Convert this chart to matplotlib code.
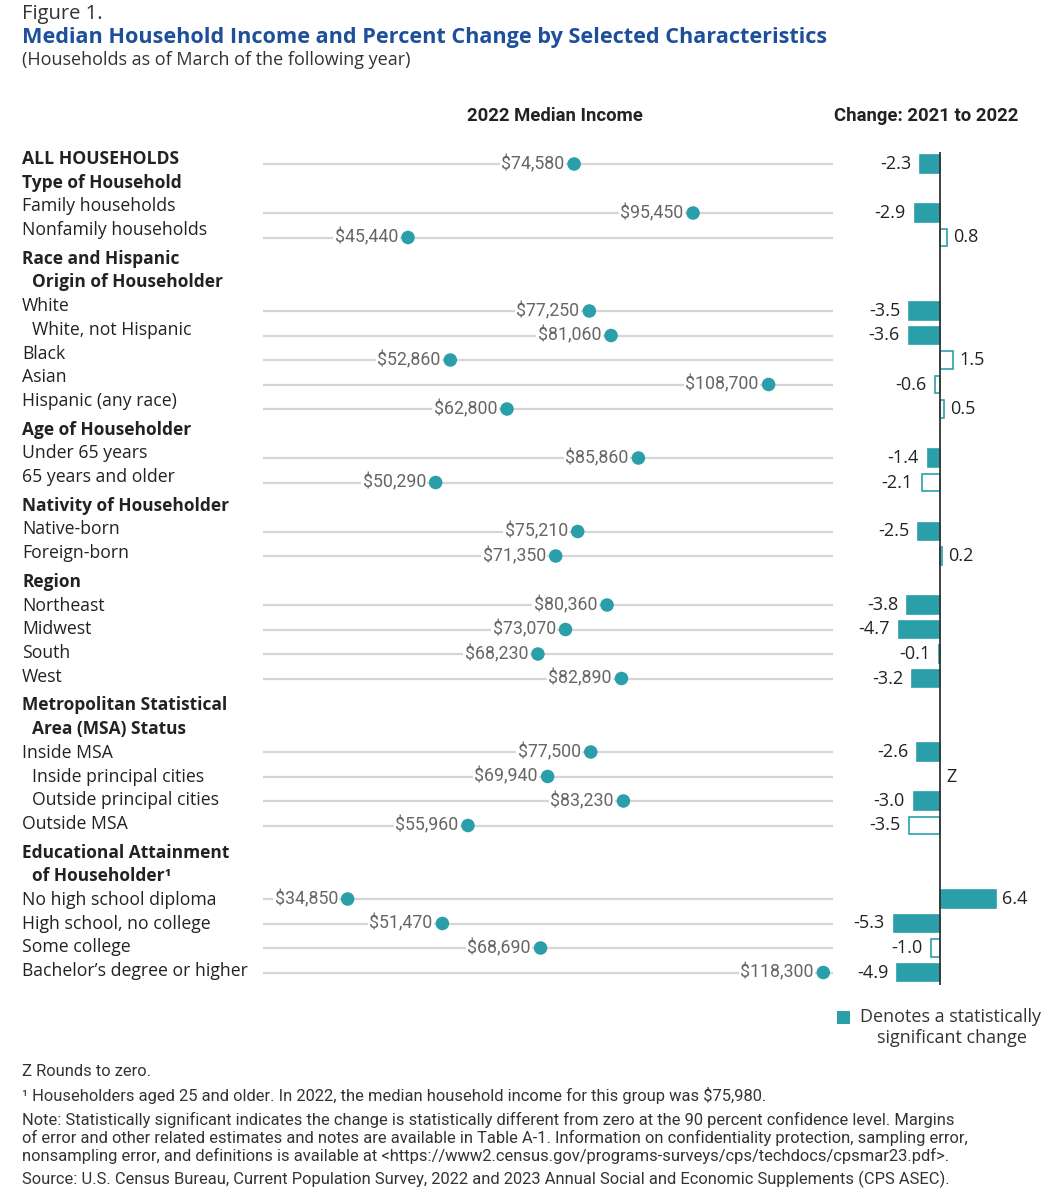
import numpy as np
import matplotlib
matplotlib.use("Agg")
import matplotlib.pyplot as plt
from matplotlib.patches import Rectangle

W, H = 1047, 1200

# groups of rows: header text (may be two lines) and categories under it
group_headers = ["", "Type of Household", "Race and Hispanic\nOrigin of Householder",
                 "Age of Householder", "Nativity of Householder", "Region",
                 "Metropolitan Statistical\nArea (MSA) Status",
                 "Educational Attainment\nof Householder\u00b9"]
group_sizes = [1, 2, 5, 2, 2, 4, 4, 4]

categories = ["ALL HOUSEHOLDS",
              "Family households", "Nonfamily households",
              "White", "White, not Hispanic", "Black", "Asian", "Hispanic (any race)",
              "Under 65 years", "65 years and older",
              "Native-born", "Foreign-born",
              "Northeast", "Midwest", "South", "West",
              "Inside MSA", "Inside principal cities", "Outside principal cities", "Outside MSA",
              "No high school diploma", "High school, no college", "Some college",
              "Bachelor\u2019s degree or higher"]
indented = ["White, not Hispanic", "Inside principal cities", "Outside principal cities"]

income = [74580,
          95450, 45440,
          77250, 81060, 52860, 108700, 62800,
          85860, 50290,
          75210, 71350,
          80360, 73070, 68230, 82890,
          77500, 69940, 83230, 55960,
          34850, 51470, 68690, 118300]

change = [-2.3,
          -2.9, 0.8,
          -3.5, -3.6, 1.5, -0.6, 0.5,
          -1.4, -2.1,
          -2.5, 0.2,
          -3.8, -4.7, -0.1, -3.2,
          -2.6, 0.0, -3.0, -3.5,
          6.4, -5.3, -1.0, -4.9]
change_text = ["-2.3", "-2.9", "0.8", "-3.5", "-3.6", "1.5", "-0.6", "0.5",
               "-1.4", "-2.1", "-2.5", "0.2", "-3.8", "-4.7", "-0.1", "-3.2",
               "-2.6", "Z", "-3.0", "-3.5", "6.4", "-5.3", "-1.0", "-4.9"]
significant = [True, True, False, True, True, False, False, False,
               True, False, True, False, True, True, False, True,
               True, False, True, False, True, True, False, True]

teal = "#2A9FAA"
blue = "#1D4F9B"
dark = "#222222"
main_font = ["Open Sans", "DejaVu Sans"]
num_font = ["Roboto", "DejaVu Sans"]


def fx(x):
    return x / W


def fy(y):
    return 1 - y / H


# slot positions: headers take one slot per text line
slots = []
header_slots = []
slot = 0
for gi, (hd, n) in enumerate(zip(group_headers, group_sizes)):
    if hd:
        header_slots.append((gi, slot, hd.split("\n")))
        slot += len(hd.split("\n"))
    for k in range(n):
        slots.append((gi, slot))
        slot += 1
y = np.array([s for _, s in slots], dtype=float)

fig = plt.figure(figsize=(W / 100, H / 100), dpi=100)
fig.patch.set_facecolor("white")

top_px, bot_px, row_px, first_px = 140, 990, 24.5, 164
ylim = ((bot_px - first_px) / row_px, (top_px - first_px) / row_px)

ax = fig.add_axes([fx(263), fy(bot_px), fx(833 - 263), (bot_px - top_px) / H])
ax.set_xlim(20000, 120000)
ax.set_ylim(*ylim)
ax.axis("off")
ax.hlines(y, 20000, 120000, color="#d6d6d6", lw=1.6, zorder=1)
ax.scatter(income, y, s=95, color=teal, zorder=4, edgecolors="none")
for v, yy in zip(income, y):
    ax.annotate(f"${v:,}", (v, yy), xytext=(-7, 0), textcoords="offset points",
                ha="right", va="center", fontsize=12.8, color="#666666",
                family=num_font, zorder=3,
                bbox=dict(fc="white", ec="none", pad=1.0))

ax2 = fig.add_axes([fx(870), fy(bot_px), fx(1010 - 870), (bot_px - top_px) / H])
ax2.set_xlim(-8, 8)
ax2.set_ylim(*ylim)
ax2.axis("off")
for v, yy, sig, txt in zip(change, y, significant, change_text):
    if v != 0:
        ax2.barh(yy, v, height=0.7, color=teal if sig else "white",
                 edgecolor=teal, lw=1.2, zorder=2)
    if v < 0:
        ax2.text(v - 1.0, yy, txt, ha="right", va="center", fontsize=13,
                 color=dark, family=main_font)
    else:
        ax2.text(v + 0.7, yy, txt, ha="left", va="center", fontsize=13,
                 color=dark, family=main_font)
ax2.vlines(0, -0.5, 33.5, color="#333333", lw=1.3, zorder=3)

# row labels, placed on their own text grid
line_h, gap = 23.7, 5
extra = {gi: gap * max(gi - 1, 0) for gi in range(len(group_headers))}
for gi, s, lines in header_slots:
    for k, ln in enumerate(lines):
        fig.text(fx(22 + (10 if k > 0 else 0)), fy(159 + line_h * (s + k) + extra[gi]),
                 ln, ha="left", va="center", fontsize=12.5, fontweight="bold",
                 color=dark, family=main_font)
for cat, (gi, s) in zip(categories, slots):
    fig.text(fx(32 if cat in indented else 22), fy(159 + line_h * s + extra[gi]), cat,
             ha="left", va="center", fontsize=12.7, color=dark, family=main_font,
             fontweight="bold" if cat == "ALL HOUSEHOLDS" else "normal")

# titles
fig.text(fx(22), fy(14), "Figure 1.", fontsize=14.5, color="#333333",
         ha="left", va="center", family=main_font)
fig.text(fx(22), fy(38), "Median Household Income and Percent Change by Selected Characteristics",
         fontsize=15.6, fontweight="bold", color=blue, ha="left", va="center", family=main_font)
fig.text(fx(22), fy(60), "(Households as of March of the following year)",
         fontsize=13, color="#333333", ha="left", va="center", family=main_font)
fig.text(fx(555), fy(116), "2022 Median Income", fontsize=13.3, fontweight="bold",
         color=dark, ha="center", va="center", family=num_font)
fig.text(fx(926), fy(116), "Change: 2021 to 2022", fontsize=13.3, fontweight="bold",
         color=dark, ha="center", va="center", family=num_font)

# legend
fig.add_artist(Rectangle((fx(837), fy(1024)), 13 / W, 13 / H, transform=fig.transFigure,
                         facecolor=teal, edgecolor="none"))
fig.text(fx(860), fy(1017), "Denotes a statistically", fontsize=13, color="#333333",
         ha="left", va="center", family=main_font)
fig.text(fx(952), fy(1038), "significant change", fontsize=13, color="#333333",
         ha="center", va="center", family=main_font)

# notes
notes = [
    (1071, "Z Rounds to zero."),
    (1095, "\u00b9 Householders aged 25 and older. In 2022, the median household income for this group was $75,980."),
    (1120, "Note: Statistically significant indicates the change is statistically different from zero at the 90 percent confidence level. Margins"),
    (1138, "of error and other related estimates and notes are available in Table A-1. Information on confidentiality protection, sampling error,"),
    (1156, "nonsampling error, and definitions is available at <https://www2.census.gov/programs-surveys/cps/techdocs/cpsmar23.pdf>."),
    (1179, "Source: U.S. Census Bureau, Current Population Survey, 2022 and 2023 Annual Social and Economic Supplements (CPS ASEC)."),
]
for yy, t in notes:
    fig.text(fx(22), fy(yy), t, fontsize=11.85, color="#333333", ha="left", va="center",
             family=num_font)

fig.savefig("out.png", dpi=100, facecolor="white")
